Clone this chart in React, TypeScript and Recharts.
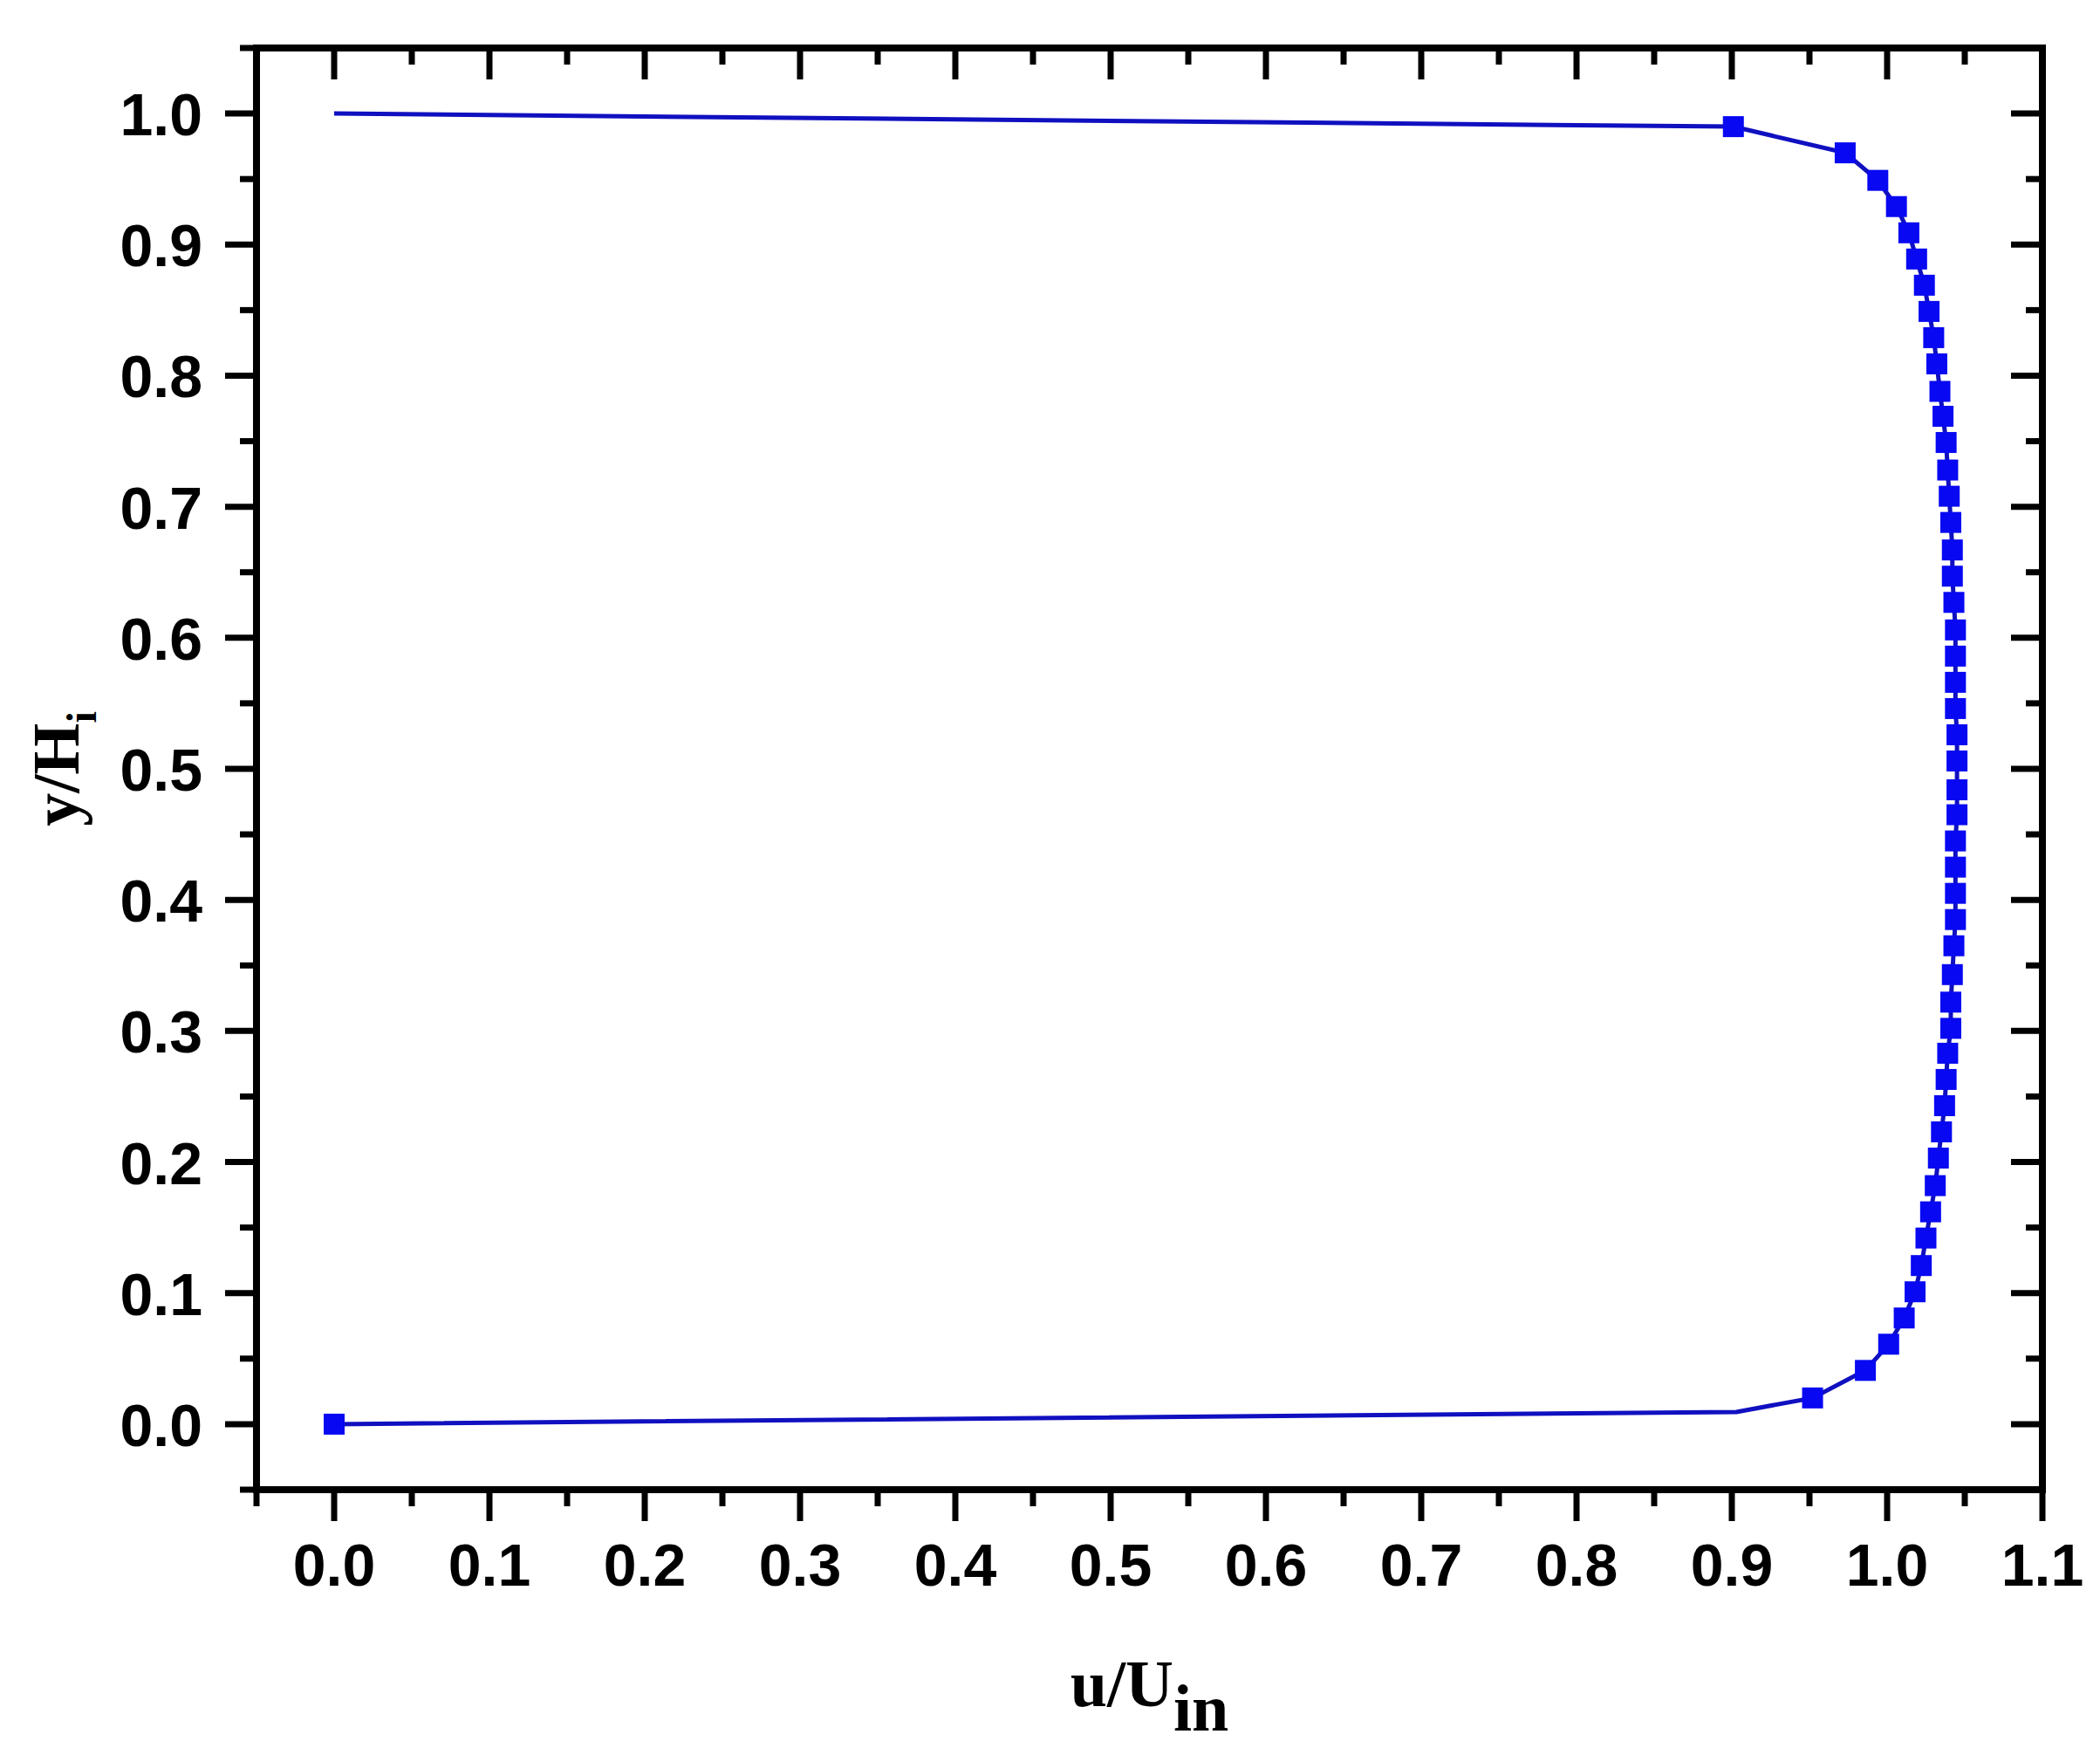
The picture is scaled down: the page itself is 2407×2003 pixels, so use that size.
import { ScatterChart, Scatter, XAxis, YAxis } from "recharts";

// axis ticks (major ones carry a label)
const xMajorTicks = [0, 0.1, 0.2, 0.3, 0.4, 0.5, 0.6, 0.7, 0.8, 0.9, 1.0, 1.1];
const xMinorTicks = [-0.05, 0.05, 0.15, 0.25, 0.35, 0.45, 0.55, 0.65, 0.75, 0.85, 0.95, 1.05];
const yMajorTicks = [0, 0.1, 0.2, 0.3, 0.4, 0.5, 0.6, 0.7, 0.8, 0.9, 1.0];
const yMinorTicks = [-0.05, 0.05, 0.15, 0.25, 0.35, 0.45, 0.55, 0.65, 0.75, 0.85, 0.95, 1.05];

// velocity profile, markers from the wall y=0 upwards
const profileV = [
  0.0, 0.02, 0.041, 0.061, 0.081, 0.101, 0.121, 0.142, 0.162, 0.182,
  0.203, 0.223, 0.243, 0.263, 0.283, 0.302, 0.322, 0.343, 0.365, 0.385,
  0.405, 0.425, 0.445, 0.465, 0.484, 0.506, 0.526, 0.546, 0.566, 0.586,
  0.606, 0.627, 0.647, 0.667, 0.688, 0.708, 0.728, 0.749, 0.769, 0.788,
  0.809, 0.829, 0.849, 0.869, 0.889, 0.909, 0.929, 0.949, 0.97, 0.99,
];
const profileU = [
  0.0, 0.952, 0.986, 1.001, 1.011, 1.018, 1.022, 1.025, 1.028, 1.031,
  1.033, 1.035, 1.037, 1.038, 1.039, 1.041, 1.041, 1.042, 1.043, 1.044,
  1.044, 1.044, 1.044, 1.045, 1.045, 1.045, 1.045, 1.044, 1.044, 1.044,
  1.044, 1.043, 1.042, 1.042, 1.041, 1.04, 1.039, 1.038, 1.036, 1.034,
  1.032, 1.03, 1.027, 1.024, 1.019, 1.014, 1.006, 0.994, 0.973, 0.901,
];

// points the curve passes through without a marker (bend near the lower wall, upper wall)
const bendU = 0.903;
const bendV = 0.0093;
const topWallU = 0.0;
const topWallV = 1.0;

const markers = profileU.map((u, i) => ({ u, v: profileV[i] }));
const curve = [
  markers[0],
  { u: bendU, v: bendV },
  ...markers.slice(1),
  { u: topWallU, v: topWallV },
];

const xTicks = [...xMajorTicks, ...xMinorTicks].sort((a, b) => a - b);
const yTicks = [...yMajorTicks, ...yMinorTicks].sort((a, b) => a - b);

const MAJOR = 36;
const MINOR = 19;
const TICK_W = 7;
const LABEL_FONT = '"Liberation Sans", Arial, Helvetica, sans-serif';
const TITLE_FONT = '"Liberation Serif", "Times New Roman", Times, serif';

function BottomTick({ x, y, payload }: any) {
  const major = xMajorTicks.includes(payload.value);
  return (
    <g>
      <line x1={x} x2={x} y1={y} y2={y + (major ? MAJOR : MINOR)} stroke="#000" strokeWidth={TICK_W} />
      {major && (
        <text x={x} y={y + 110} textAnchor="middle" fontSize={68} fontWeight="bold" fontFamily={LABEL_FONT} fill="#000">
          {payload.value.toFixed(1)}
        </text>
      )}
    </g>
  );
}

function TopTick({ x, y, payload }: any) {
  const major = xMajorTicks.includes(payload.value);
  return <line x1={x} x2={x} y1={y} y2={y + (major ? MAJOR : MINOR)} stroke="#000" strokeWidth={TICK_W} />;
}

function LeftTick({ x, y, payload }: any) {
  const major = yMajorTicks.includes(payload.value);
  return (
    <g>
      <line x1={x} x2={x - (major ? MAJOR : MINOR)} y1={y} y2={y} stroke="#000" strokeWidth={TICK_W} />
      {major && (
        <text x={x - 62} y={y + 25} textAnchor="end" fontSize={68} fontWeight="bold" fontFamily={LABEL_FONT} fill="#000">
          {payload.value.toFixed(1)}
        </text>
      )}
    </g>
  );
}

function RightTick({ x, y, payload }: any) {
  const major = yMajorTicks.includes(payload.value);
  return <line x1={x} x2={x - (major ? MAJOR : MINOR)} y1={y} y2={y} stroke="#000" strokeWidth={TICK_W} />;
}

function XTitle({ viewBox }: any) {
  const cx = viewBox.x + viewBox.width / 2;
  return (
    <text x={cx} y={viewBox.y + 248} textAnchor="middle" fontSize={76} fontWeight="bold" fontFamily={TITLE_FONT} fill="#000">
      u/U
      <tspan dy={28}>in</tspan>
    </text>
  );
}

function YTitle({ viewBox }: any) {
  const x = viewBox.x + 90;
  const y = viewBox.y + viewBox.height / 2;
  return (
    <text x={x} y={y} transform={`rotate(-90, ${x}, ${y})`} textAnchor="middle" fontSize={76} fontWeight="bold" fontFamily={TITLE_FONT} fill="#000">
      y/H
      <tspan dy={20} fontSize={48}>i</tspan>
    </text>
  );
}

const SquareMarker = ({ cx, cy }: any) => (
  <rect x={cx - 12} y={cy - 12} width={24} height={24} fill="#0808f2" />
);

const NoMarker = () => <g />;

const frame = { stroke: "#000", strokeWidth: 8, strokeLinecap: "square" as const };

export default function App() {
  return (
    <div style={{ position: "absolute", left: 0, top: 0, width: 2407, height: 2003, background: "#fff" }}>
      <ScatterChart width={2407} height={2003} margin={{ top: 5, right: 16, bottom: 0, left: 0 }}>
        <XAxis
          xAxisId="bottom"
          type="number"
          dataKey="u"
          orientation="bottom"
          domain={[-0.05, 1.1]}
          allowDataOverflow
          ticks={xTicks}
          interval={0}
          height={296}
          tickSize={0}
          tickMargin={0}
          tickLine={false}
          axisLine={frame}
          tick={<BottomTick />}
          label={(p: any) => <XTitle {...p} />}
        />
        <XAxis
          xAxisId="top"
          type="number"
          dataKey="u"
          orientation="top"
          domain={[-0.05, 1.1]}
          allowDataOverflow
          ticks={xTicks}
          interval={0}
          height={50}
          tickSize={0}
          tickMargin={0}
          tickLine={false}
          axisLine={frame}
          tick={<TopTick />}
        />
        <YAxis
          yAxisId="left"
          type="number"
          dataKey="v"
          orientation="left"
          domain={[-0.05, 1.05]}
          allowDataOverflow
          ticks={yTicks}
          interval={0}
          width={294}
          tickSize={0}
          tickMargin={0}
          tickLine={false}
          axisLine={frame}
          tick={<LeftTick />}
          label={(p: any) => <YTitle {...p} />}
        />
        <YAxis
          yAxisId="right"
          type="number"
          dataKey="v"
          orientation="right"
          domain={[-0.05, 1.05]}
          allowDataOverflow
          ticks={yTicks}
          interval={0}
          width={50}
          tickSize={0}
          tickMargin={0}
          tickLine={false}
          axisLine={frame}
          tick={<RightTick />}
        />
        <Scatter
          data={curve}
          xAxisId="top"
          yAxisId="right"
          line={{ stroke: "#1010c0", strokeWidth: 5 }}
          lineType="joint"
          shape={<NoMarker />}
          isAnimationActive={false}
        />
        <Scatter
          data={markers}
          xAxisId="bottom"
          yAxisId="left"
          shape={<SquareMarker />}
          isAnimationActive={false}
        />
      </ScatterChart>
    </div>
  );
}
